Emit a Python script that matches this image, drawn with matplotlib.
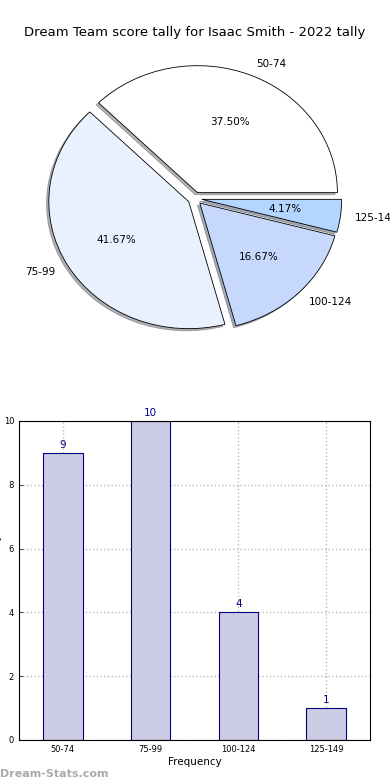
import numpy as np
import matplotlib
matplotlib.use('Agg')
import matplotlib.pyplot as plt

# data
categories = ["50-74", "75-99", "100-124", "125-149"]
counts = [9, 10, 4, 1]
pie_colors = ["#ffffff", "#eaf1fe", "#c6d9fd", "#b3d5ff"]
explode = [0.05, 0.05, 0.05, 0.05]

fig = plt.figure(figsize=(3.9, 7.8), dpi=100)

# pie chart (stretched, not circular)
ax1 = fig.add_axes([0.051, 0.542, 0.897, 0.407])
wedges, texts, autotexts = ax1.pie(
    counts, labels=categories, colors=pie_colors, explode=explode,
    autopct='%1.2f%%', shadow={'ox': -0.012, 'oy': -0.012, 'shade': 0.6},
    startangle=0,
    wedgeprops={'edgecolor': 'black', 'linewidth': 0.6},
    textprops={'fontsize': 7.5}
)
ax1.set_aspect('auto')
ax1.set_title("Dream Team score tally for Isaac Smith - 2022 tally", fontsize=9.5, pad=3)

# bar chart
ax2 = fig.add_axes([0.0487, 0.0513, 0.9, 0.409])
x = np.arange(len(categories))
bars = ax2.bar(x, counts, width=0.45, color="#ccccE5", edgecolor="navy", linewidth=0.8, zorder=2)
for xi, c in zip(x, counts):
    ax2.text(xi, c + 0.1, str(c), ha='center', va='bottom', color='navy', fontsize=7.5)

ax2.set_xlim(-0.5, 3.5)
ax2.set_ylim(0, 10)
ax2.set_xticks(x)
ax2.set_xticklabels(categories, fontsize=6)
ax2.set_yticks([0, 2, 4, 6, 8, 10])
ax2.tick_params(axis='y', labelsize=6)
ax2.tick_params(direction='in', length=3, width=0.5, top=False, right=False)
ax2.grid(True, linestyle=':', color='#bbbbbb', linewidth=1, zorder=0)
ax2.set_xlabel("Frequency", fontsize=7.5, labelpad=2)
ax2.set_ylabel("Dream Team Tally", fontsize=7.5, labelpad=1)
for spine in ax2.spines.values():
    spine.set_linewidth(0.8)

fig.text(0.0, 0.004, "Dream-Stats.com", fontsize=8, color='#aaaaaa', fontweight='bold')

fig.savefig("out.png", dpi=100)
plt.close(fig)
